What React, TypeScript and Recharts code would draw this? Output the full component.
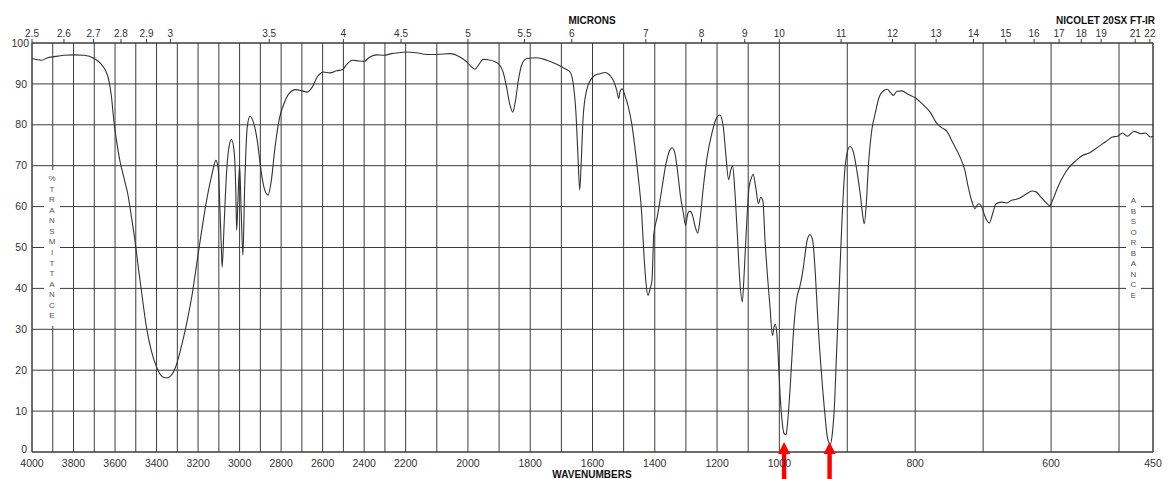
import React from "react";
import { CartesianGrid, Line, LineChart, ReferenceDot, XAxis, YAxis } from "recharts";

// spectrum samples, cm-1 and %T
const WAVENUMBER = [
  4000, 3975, 3952, 3925, 3900, 3847, 3800, 3750, 3700, 3670, 3646, 3630, 3617, 3606, 3593, 3577,
  3558, 3539, 3521, 3502, 3486, 3469, 3449, 3426, 3400, 3378, 3354, 3330, 3305, 3277, 3252, 3228,
  3204, 3180, 3156, 3132, 3114, 3103, 3095, 3088, 3084, 3075, 3063, 3051, 3039, 3027, 3019, 3014,
  3008, 3000, 2992, 2984, 2976, 2963, 2950, 2934, 2915, 2899, 2883, 2863, 2847, 2831, 2810, 2786,
  2762, 2730, 2698, 2674, 2650, 2625, 2609, 2597, 2565, 2532, 2503, 2484, 2455, 2427, 2401, 2372,
  2340, 2305, 2267, 2236, 2199, 2165, 2133, 2100, 2058, 2026, 2004, 1988, 1977, 1967, 1951, 1935,
  1913, 1897, 1887, 1876, 1865, 1856, 1848, 1838, 1828, 1811, 1779, 1747, 1715, 1688, 1672, 1662,
  1653, 1647, 1641, 1636, 1630, 1619, 1603, 1592, 1576, 1560, 1544, 1531, 1522, 1516, 1512, 1505,
  1496, 1485, 1474, 1464, 1453, 1442, 1435, 1428, 1422, 1415, 1409, 1403, 1392, 1378, 1364, 1351,
  1344, 1335, 1326, 1317, 1308, 1301, 1294, 1287, 1279, 1270, 1262, 1255, 1244, 1232, 1217, 1204,
  1191, 1180, 1172, 1163, 1156, 1150, 1143, 1135, 1127, 1119, 1113, 1105, 1097, 1089, 1084, 1076,
  1067, 1060, 1053, 1046, 1037, 1030, 1022, 1017, 1013, 1008, 1003, 999, 996, 993, 990, 988,
  984, 980, 977, 974, 970, 966, 962, 959, 955, 951, 947, 943, 938, 933, 929, 925,
  922, 919, 916, 912, 908, 904, 900, 896, 891, 886, 881, 877, 875, 872, 869, 864,
  859, 853, 846, 841, 837, 832, 827, 820, 810, 800, 790, 778, 768, 761, 754, 744,
  734, 727, 722, 717, 712, 709, 706, 702, 698, 691, 686, 681, 673, 665, 659, 651,
  644, 637, 628, 622, 615, 607, 602, 598, 590, 583, 573, 563, 554, 544, 534, 524,
  517, 510, 502, 495, 488, 478, 468, 461, 454, 450,
];

const TRANSMITTANCE = [
  96.2, 95.9, 95.8, 96.4, 96.6, 97.0, 97.1, 97.0, 96.2, 95.0, 93.3, 90.9, 86.8, 81.1, 76.2, 71.3,
  67.2, 63.2, 57.5, 50.9, 44.4, 37.9, 30.6, 24.9, 20.8, 18.7, 18.1, 18.7, 21.2, 26.5, 32.2, 38.7,
  46.9, 55.0, 62.3, 68.1, 71.3, 69.3, 59.9, 50.1, 45.2, 55.0, 68.1, 74.6, 76.4, 73.8, 65.6, 54.2,
  61.5, 70.1, 58.3, 48.1, 64.0, 79.5, 82.1, 80.7, 76.2, 69.7, 64.8, 62.8, 66.4, 73.8, 81.1, 85.2,
  87.6, 88.6, 88.3, 88.0, 89.2, 91.8, 92.6, 92.9, 92.7, 93.2, 93.5, 94.8, 95.8, 95.6, 95.5, 96.6,
  97.1, 97.0, 97.4, 97.6, 97.8, 97.6, 97.2, 97.2, 97.4, 96.6, 95.4, 94.1, 93.6, 94.5, 96.0, 95.9,
  95.4, 94.5, 92.9, 89.2, 84.8, 83.1, 85.6, 90.9, 94.5, 96.2, 96.4, 95.8, 94.8, 93.7, 92.9, 90.1,
  82.7, 72.9, 64.1, 71.3, 81.9, 88.4, 91.3, 92.1, 92.5, 92.8, 92.1, 90.5, 88.4, 86.4, 88.0, 88.8,
  87.2, 84.4, 80.3, 74.6, 67.2, 58.3, 48.5, 41.2, 38.3, 39.9, 42.0, 53.4, 57.5, 64.0, 70.5, 73.9,
  74.4, 72.9, 68.1, 62.3, 58.3, 55.4, 58.3, 58.9, 57.9, 55.0, 53.5, 56.6, 64.8, 72.1, 77.8, 81.3,
  82.4, 79.5, 72.9, 66.6, 68.9, 69.9, 64.0, 53.4, 42.0, 36.7, 43.6, 55.8, 64.8, 67.2, 67.9, 64.8,
  60.7, 62.3, 61.5, 51.8, 42.0, 35.5, 28.5, 30.6, 31.2, 28.9, 22.4, 14.3, 7.7, 4.5, 4.2, 6.9,
  15.9, 27.3, 33.8, 37.9, 40.3, 43.6, 48.5, 51.8, 53.1, 51.8, 43.6, 31.3, 19.2, 9.4, 3.3, 1.9,
  4.5, 11.0, 23.2, 39.5, 55.8, 68.1, 73.3, 74.7, 73.3, 68.9, 63.2, 57.5, 55.8, 60.7, 69.7, 78.6,
  82.7, 86.8, 88.4, 88.7, 88.0, 87.2, 88.2, 88.3, 87.4, 86.6, 85.2, 83.1, 80.3, 79.3, 78.5, 75.4,
  72.1, 68.9, 64.8, 61.5, 59.5, 60.3, 60.7, 59.9, 57.9, 56.0, 58.3, 60.7, 61.1, 60.9, 61.5, 61.8,
  62.3, 63.0, 63.8, 63.6, 62.3, 60.9, 60.2, 61.5, 64.8, 67.2, 69.7, 71.3, 72.5, 73.1, 74.2, 75.4,
  76.2, 77.0, 77.2, 78.0, 77.2, 78.4, 77.8, 78.0, 77.0, 77.2,
];

const WAVENUMBER_LABELS = [
  4000, 3800, 3600, 3400, 3200, 3000, 2800, 2600, 2400, 2200, 2000, 1800, 1600, 1400, 1200, 1000,
  800, 600, 450,
];
const MICRON_LABELS = [
  "2.5", "2.6", "2.7", "2.8", "2.9", "3", "3.5", "4", "4.5", "5", "5.5", "6", "7", "8", "9", "10",
  "11", "12", "13", "14", "15", "16", "17", "18", "19", "21", "22",
];
const ABSORBANCE = [0, 0.05, 0.1, 0.2, 0.3, 0.4, 0.5, 0.6, 0.7, 0.8, 0.9, 1.0, 2.0];
const ABSORBANCE_LABELS = ["0.0", ".05", "0.1", "0.2", "0.3", "0.4", "0.5", "0.6", "0.7", "0.8", "0.9", "1.0", "2.0"];
const MARKED_BANDS = [993, 926];

// the wavenumber axis is split in three equal-width pieces
const BREAKS = [4000, 2200, 1000, 450];
function toAxis(wn: number): number {
  for (let i = 0; i < 3; i++) {
    const hi = BREAKS[i];
    const lo = BREAKS[i + 1];
    if (wn >= lo || i === 2) return i + (hi - wn) / (hi - lo);
  }
  return 3;
}

const GRID_WN: number[] = [];
for (let w = 4000; w >= 500; w -= 100) GRID_WN.push(w);
GRID_WN.push(450);

const FONT = "'Liberation Sans', Arial, Helvetica, sans-serif";
const INK = "#333";
const GRID = "#3c3c3c";

const data = WAVENUMBER.map((w, i) => ({ u: toAxis(w), t: TRANSMITTANCE[i] }));

function LeftTick(props: any) {
  const { x, y, payload } = props;
  const v = payload.value;
  return (
    <text x={v === 100 ? x + 2 : x} y={v === 0 ? y - 3 : y} dy="0.35em" textAnchor="end" fontSize={10.5} fill={INK} fontFamily={FONT}>
      {v}
    </text>
  );
}

function BottomTick(props: any) {
  const { x, y, index } = props;
  const wn = GRID_WN[index];
  if (!WAVENUMBER_LABELS.includes(wn)) return <g />;
  return (
    <text x={x} y={y} dy={14.5} textAnchor="middle" fontSize={10.5} fill={INK} fontFamily={FONT}>
      {wn}
    </text>
  );
}

function TopTick(props: any) {
  const { x, y, index } = props;
  return (
    <text x={x} y={y} dy={-2} textAnchor="middle" fontSize={10} fill={INK} fontFamily={FONT}>
      {MICRON_LABELS[index]}
    </text>
  );
}

function RightTick(props: any) {
  const { x, y, index } = props;
  return (
    <text x={x} y={y} dy="0.35em" textAnchor="start" fontSize={8} fill="#555" fontFamily={FONT}>
      {ABSORBANCE_LABELS[index]}
    </text>
  );
}

function Arrow(props: any) {
  const { cx, cy } = props;
  const d = `M${cx},${cy - 10} L${cx + 6},${cy + 2} L${cx + 2.2},${cy + 2} L${cx + 2.2},${cy + 28} L${cx - 2.2},${cy + 28} L${cx - 2.2},${cy + 2} L${cx - 6},${cy + 2} Z`;
  return <path d={d} fill="#ff0000" />;
}

function Stacked({ text, left, top, width, step, pad }: { text: string; left: number; top: number; width: number; step: number; pad: number }) {
  return (
    <div
      style={{
        position: "absolute",
        left,
        top,
        width,
        padding: `${pad}px 0`,
        background: "#fff",
        display: "flex",
        flexDirection: "column",
        alignItems: "center",
        fontSize: 8,
        lineHeight: `${step}px`,
        color: "#555",
        fontFamily: FONT,
      }}
    >
      {text.split("").map((c, i) => (
        <span key={i}>{c}</span>
      ))}
    </div>
  );
}

const title: React.CSSProperties = {
  position: "absolute",
  fontFamily: FONT,
  fontWeight: 700,
  fontSize: 10,
  lineHeight: 1,
  color: "#111",
  whiteSpace: "nowrap",
};

export default function App() {
  return (
    <div style={{ position: "relative", width: 1162, height: 471 }}>
      <LineChart width={1162} height={471} data={data} margin={{ top: 0, right: 0, bottom: 0, left: 0 }}>
        <CartesianGrid xAxisId="bottom" yAxisId="left" stroke={GRID} strokeWidth={1} />
        <XAxis
          xAxisId="bottom"
          dataKey="u"
          type="number"
          domain={[0, 3]}
          ticks={GRID_WN.map(toAxis)}
          interval={0}
          height={27}
          tickSize={0}
          tickMargin={0}
          tickLine={false}
          axisLine={{ stroke: GRID }}
          tick={<BottomTick />}
        />
        <XAxis
          xAxisId="top"
          orientation="top"
          dataKey="u"
          type="number"
          domain={[0, 3]}
          ticks={MICRON_LABELS.map((m) => toAxis(10000 / parseFloat(m)))}
          interval={0}
          height={35}
          tickSize={4}
          tickMargin={0}
          tickLine={{ stroke: GRID }}
          axisLine={{ stroke: GRID }}
          tick={<TopTick />}
        />
        <YAxis
          yAxisId="left"
          dataKey="t"
          type="number"
          domain={[0, 100]}
          ticks={[0, 10, 20, 30, 40, 50, 60, 70, 80, 90, 100]}
          interval={0}
          width={24}
          tickSize={0}
          tickMargin={5}
          tickLine={false}
          axisLine={{ stroke: GRID }}
          tick={<LeftTick />}
        />
        <YAxis
          yAxisId="right"
          orientation="right"
          type="number"
          domain={[0, 100]}
          ticks={ABSORBANCE.map((a) => 100 * Math.pow(10, -a))}
          interval={0}
          width={17}
          tickSize={3}
          tickMargin={1}
          tickLine={{ stroke: "#555" }}
          axisLine={{ stroke: GRID }}
          tick={<RightTick />}
        />
        <Line
          xAxisId="bottom"
          yAxisId="left"
          dataKey="t"
          type="monotone"
          stroke="#333"
          strokeWidth={1.1}
          dot={false}
          isAnimationActive={false}
        />
        {MARKED_BANDS.map((w) => (
          <ReferenceDot
            key={w}
            xAxisId="bottom"
            yAxisId="left"
            x={toAxis(w)}
            y={0}
            r={0}
            ifOverflow="visible"
            shape={(p: any) => <Arrow cx={p.cx} cy={p.cy} />}
          />
        ))}
      </LineChart>

      <div style={{ ...title, left: 584, top: 13, transform: "translate(-50%, -50%)" }}>MICRONS</div>
      <div style={{ ...title, right: 15, top: 13, transform: "translateY(-50%)" }}>NICOLET 20SX FT-IR</div>
      <div style={{ ...title, left: 584, top: 467, transform: "translate(-50%, -50%)" }}>WAVENUMBERS</div>

      <Stacked text="%TRANSMITTANCE" left={36} top={162} width={16} step={10.57} pad={4} />
      <Stacked text="ABSORBANCE" left={1118} top={185} width={15} step={10.52} pad={3} />
    </div>
  );
}
